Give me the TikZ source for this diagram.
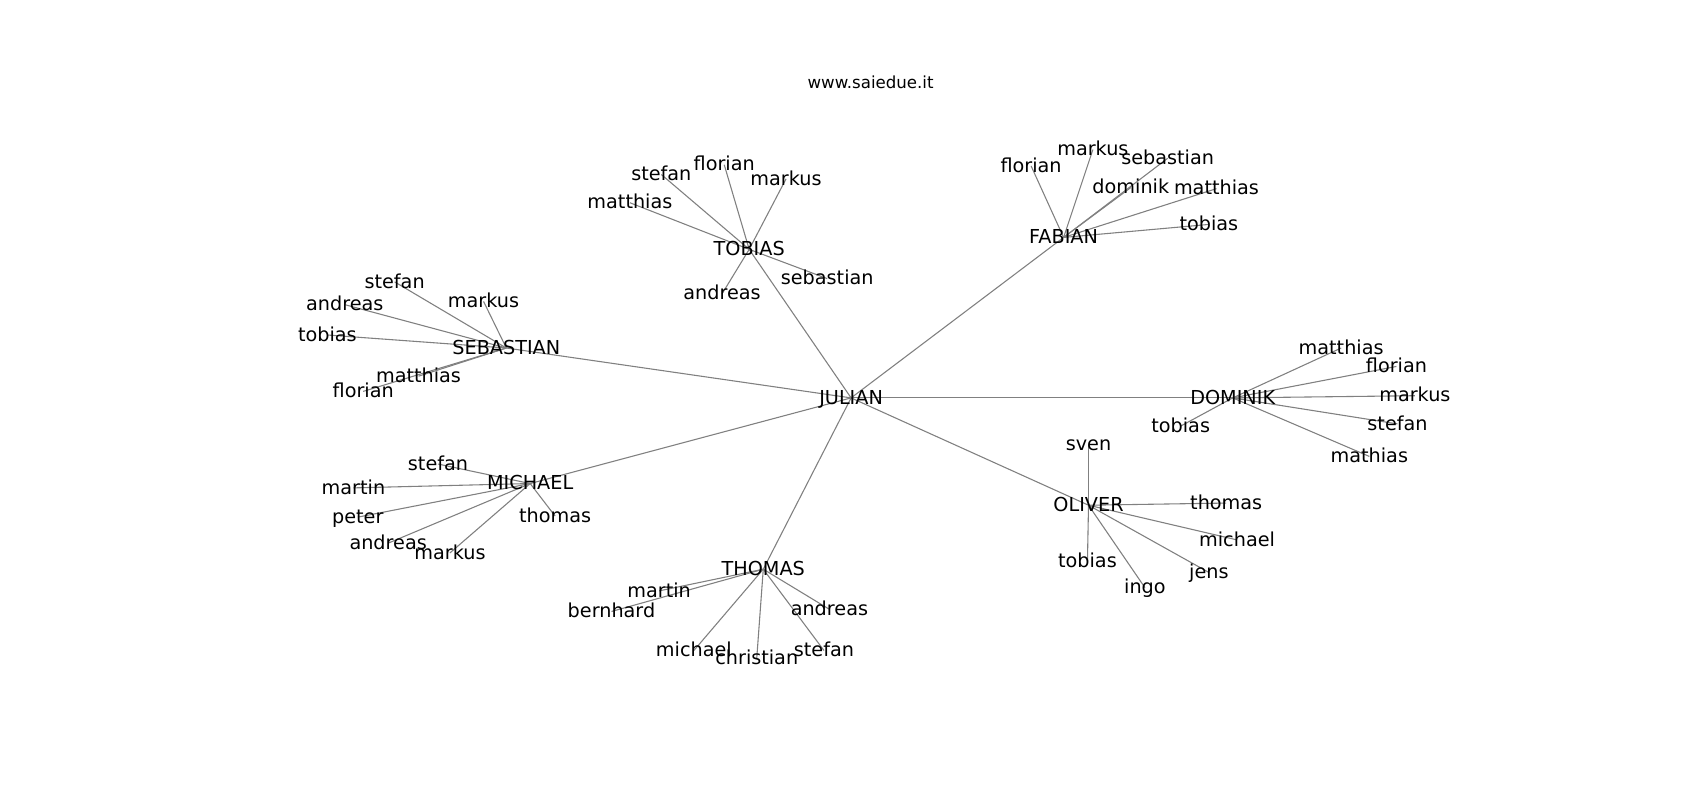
\documentclass[tikz,border=0pt]{standalone}
\usepackage{fontspec}
\setmainfont{DejaVu Sans}
\pgfdeclarelayer{bg}
\pgfsetlayers{bg,main}
\begin{document}
\begin{tikzpicture}[x=0.75pt,y=-0.75pt,
  lbl/.style={inner sep=0pt, text height=0.95em, text depth=0.1em, font=\fontsize{13.3}{16}\selectfont},
  ttl/.style={inner sep=0pt, font=\fontsize{11.5}{13}\selectfont},
  edge/.style={draw=black!50, line width=0.75pt}]
\useasboundingbox (0,0) rectangle (1568,738);
\node[ttl] (title) at (803,76) {www.saiedue.it};
% hubs
\node[lbl] (J) at (785,367) {JULIAN};
\node[lbl] (T) at (691,230) {TOBIAS};
\node[lbl] (S) at (467,321) {SEBASTIAN};
\node[lbl] (F) at (981,219) {FABIAN};
\node[lbl] (D) at (1137,367) {DOMINIK};
\node[lbl] (O) at (1004,466) {OLIVER};
\node[lbl] (TH) at (704,525) {THOMAS};
\node[lbl] (M) at (489,446) {MICHAEL};
% TOBIAS children
\node[lbl] (T1) at (610,161) {stefan};
\node[lbl] (T2) at (668,152) {florian};
\node[lbl] (T3) at (725,165) {markus};
\node[lbl] (T4) at (581,187) {matthias};
\node[lbl] (T5) at (763,257) {sebastian};
\node[lbl] (T6) at (666,271) {andreas};
% SEBASTIAN children
\node[lbl] (S1) at (364,260) {stefan};
\node[lbl] (S2) at (318,281) {andreas};
\node[lbl] (S3) at (446,278) {markus};
\node[lbl] (S4) at (302,309) {tobias};
\node[lbl] (S5) at (386,347) {matthias};
\node[lbl] (S6) at (335,361) {florian};
% FABIAN children
\node[lbl] (F1) at (951,153) {florian};
\node[lbl] (F2) at (1008,138) {markus};
\node[lbl] (F3) at (1077,146) {sebastian};
\node[lbl] (F4) at (1043,173) {dominik};
\node[lbl] (F5) at (1122,174) {matthias};
\node[lbl] (F6) at (1115,207) {tobias};
% DOMINIK children
\node[lbl] (D1) at (1237,321) {matthias};
\node[lbl] (D2) at (1288,338) {florian};
\node[lbl] (D3) at (1305,365) {markus};
\node[lbl] (D4) at (1289,391) {stefan};
\node[lbl] (D5) at (1263,421) {mathias};
\node[lbl] (D6) at (1089,393) {tobias};
% OLIVER children
\node[lbl] (O1) at (1004,410) {sven};
\node[lbl] (O2) at (1131,464) {thomas};
\node[lbl] (O3) at (1141,498) {michael};
\node[lbl] (O4) at (1115,528) {jens};
\node[lbl] (O5) at (1056,542) {ingo};
\node[lbl] (O6) at (1003,518) {tobias};
% THOMAS children
\node[lbl] (TH1) at (608,545) {martin};
\node[lbl] (TH2) at (564,564) {bernhard};
\node[lbl] (TH3) at (765,562) {andreas};
\node[lbl] (TH4) at (760,600) {stefan};
\node[lbl] (TH5) at (698,607) {christian};
\node[lbl] (TH6) at (640,600) {michael};
% MICHAEL children
\node[lbl] (M1) at (404,428) {stefan};
\node[lbl] (M2) at (326,450) {martin};
\node[lbl] (M3) at (330,477) {peter};
\node[lbl] (M4) at (358,501) {andreas};
\node[lbl] (M5) at (415,510) {markus};
\node[lbl] (M6) at (512,476) {thomas};
\begin{pgfonlayer}{bg}
\foreach \h in {T,S,F,D,O,TH,M}{\draw[edge] (J.center) -- (\h.center);}
\foreach \h in {T,S,F,D,O,TH,M}{
  \foreach \i in {1,...,6}{\draw[edge] (\h.center) -- (\h\i.center);}}
\end{pgfonlayer}
\end{tikzpicture}
\end{document}
